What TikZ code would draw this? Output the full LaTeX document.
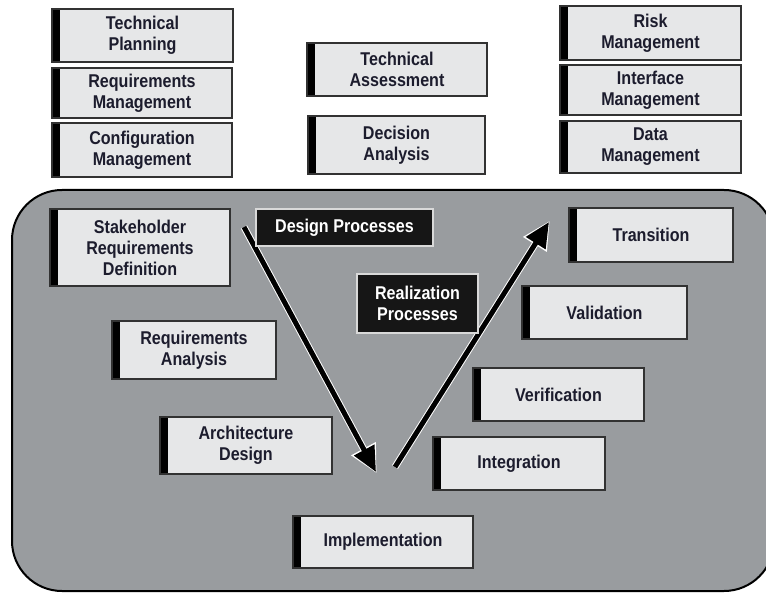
\documentclass[tikz,border=0pt]{standalone}
\usepackage{fontspec}
\setmainfont{Liberation Sans}[FakeStretch=0.87]
\usetikzlibrary{arrows.meta}
\definecolor{regiongray}{RGB}{153,156,159}
\definecolor{boxgray}{RGB}{230,231,232}
\definecolor{boxline}{RGB}{50,50,50}
\definecolor{txt}{RGB}{28,28,45}
\definecolor{darkbox}{RGB}{22,22,22}
\tikzset{
  pbox/.style={draw=boxline, line width=1.2pt, fill=boxgray, text=txt, align=center,
    font=\fontsize{18.5}{21}\selectfont\bfseries, inner sep=0pt,
    path picture={\fill[black] (path picture bounding box.south west) rectangle ([xshift=7.5pt]path picture bounding box.north east -| path picture bounding box.west);}},
  dbox/.style={draw=white!85!black, line width=1.2pt, fill=darkbox, text=white, align=center,
    font=\fontsize{18.5}{21}\selectfont\bfseries, inner sep=0pt},
  vhalo/.style={line width=7pt, white, -{Triangle[length=28pt,width=26pt]}, shorten >=-1.5pt},
  varrow/.style={line width=5pt, black, -{Triangle[length=25pt,width=22pt]}},
  region/.style={fill=regiongray, draw=black, line width=2pt, rounded corners=50pt}
}
\newcommand\procbox[7]{% style,name,l,t,r,b,text
  \pgfmathsetmacro\bw{#5-#3}\pgfmathsetmacro\bh{#6-#4}%
  \pgfmathsetmacro\cx{(#3+#5)/2}\pgfmathsetmacro\cy{(#4+#6)/2}%
  \node[#1, minimum width=\bw pt, minimum height=\bh pt] (#2) at (\cx,\cy) {#7};}
\begin{document}
\begin{tikzpicture}[x=1pt,y=-1pt]
\useasboundingbox[fill=white] (0,0) rectangle (766,596);
% process region
\path[region] (12,190) rectangle (774,591);
% top boxes
\procbox{pbox}{tp}{52}{9}{233}{62}{Technical\\Planning}
\procbox{pbox}{rm}{52}{68}{232}{118}{Requirements\\Management}
\procbox{pbox}{cm}{52}{123}{232}{177}{Configuration\\Management}
\procbox{pbox}{ta}{307}{43}{487}{96}{Technical\\Assessment}
\procbox{pbox}{da}{308}{116}{485}{174}{Decision\\Analysis}
\procbox{pbox}{rk}{560}{6}{741}{60}{Risk\\Management}
\procbox{pbox}{im}{560}{65}{741}{115}{Interface\\Management}
\procbox{pbox}{dm}{560}{121}{741}{173}{Data\\Management}
% design side
\procbox{pbox}{srd}{50}{209}{230}{286}{Stakeholder\\Requirements\\Definition}
\procbox{pbox}{ra}{112}{321}{276}{379}{Requirements\\Analysis}
\procbox{pbox}{ad}{160}{417}{332}{474}{Architecture\\Design}
\procbox{pbox}{impl}{293}{516}{473}{568}{Implementation}
% realization side
\procbox{pbox}{integ}{433}{437}{605}{490}{Integration}
\procbox{pbox}{ver}{473}{368}{644}{421}{Verification}
\procbox{pbox}{val}{522}{286}{687}{339}{Validation}
\procbox{pbox}{tr}{569}{208}{733}{262}{Transition}
% arrows
\coordinate (ds) at (244,227);
\coordinate (de) at (376,472);
\coordinate (rs) at (395,467);
\coordinate (re) at (549,222);
\draw[vhalo] (ds) -- (de);
\draw[varrow] (ds) -- (de);
\draw[vhalo] (rs) -- (re);
\draw[varrow] (rs) -- (re);
% labels
\procbox{dbox}{dp}{256}{209}{433}{246}{Design Processes}
\procbox{dbox}{rp}{357}{274}{478}{333}{Realization\\Processes}
\end{tikzpicture}
\end{document}
